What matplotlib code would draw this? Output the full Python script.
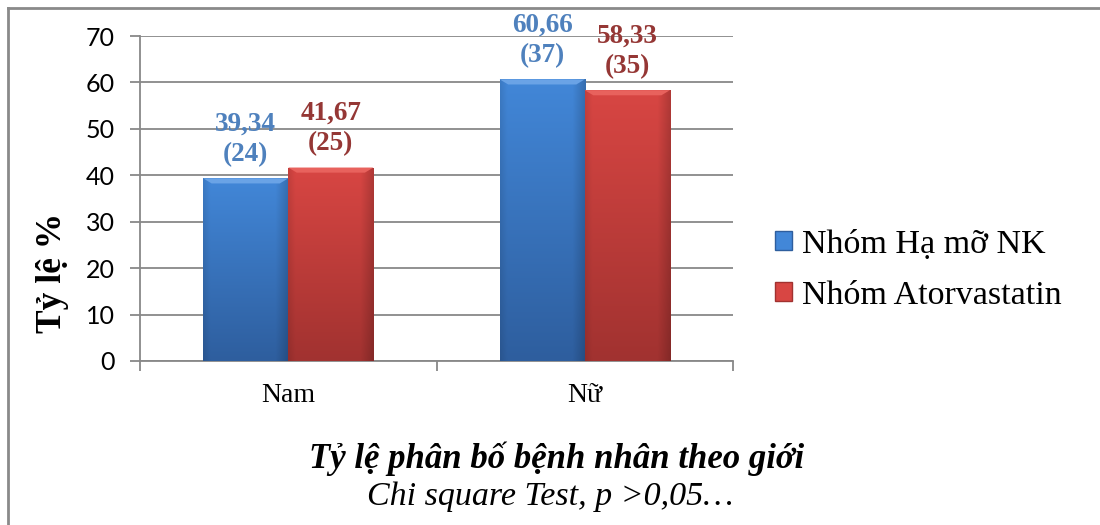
import numpy as np
import matplotlib.pyplot as plt
from matplotlib.lines import Line2D
from matplotlib.colors import to_rgb

# Data
categories = ['Nam', 'Nữ']
series_names = ['Nhóm Hạ mỡ NK', 'Nhóm Atorvastatin']
ha_mo = [39.34, 60.66]
ha_mo_n = [24, 37]
atorva = [41.67, 58.33]
atorva_n = [25, 35]
yticks = [0, 10, 20, 30, 40, 50, 60, 70]

serif = ['Liberation Serif', 'DejaVu Serif']
sans = ['Lato', 'DejaVu Sans']

# (top colour, bottom colour, bevel colour, label colour)
styles = [('#4287d8', '#2e5e9e', '#6aa3e6', '#4f81bd'),
          ('#d84643', '#a13230', '#e8625d', '#953735')]

fig = plt.figure(figsize=(11, 5.25), dpi=100)
ax = fig.add_axes([0.1273, 0.3124, 0.5391, 0.6190])

x = np.arange(len(categories))
w = 0.287
grid_c = '#888888'


def shade(ax, rect, top, bottom, bevel):
    x0, y0 = rect.get_xy()
    rw, rh = rect.get_width(), rect.get_height()
    t = np.linspace(0, 1, 200)[:, None]
    c1, c2 = np.array(to_rgb(top)), np.array(to_rgb(bottom))
    vert = c1 * (1 - t) + c2 * t
    s = np.linspace(0, 1, 60)[None, :]
    edge = 1 - 0.18 * (np.clip((s - 0.85) / 0.15, 0, 1) + np.clip((0.08 - s) / 0.08, 0, 1) * 0.5)
    img = vert[:, None, :] * edge[..., None]
    im = ax.imshow(np.clip(img, 0, 1), extent=[x0, x0 + rw, y0, y0 + rh],
                   aspect='auto', origin='upper', zorder=3, interpolation='bilinear')
    im.set_clip_path(rect)
    # top bevel
    ax.add_patch(plt.Polygon([(x0, y0 + rh), (x0 + rw, y0 + rh),
                              (x0 + rw * 0.9, y0 + rh - 1.1), (x0 + rw * 0.1, y0 + rh - 1.1)],
                             closed=True, color=bevel, zorder=4, lw=0))


handles = []
for i, (vals, counts) in enumerate([(ha_mo, ha_mo_n), (atorva, atorva_n)]):
    top, bottom, bevel, lc = styles[i]
    pos = x - w / 2 + i * w
    bars = ax.bar(pos, vals, width=w, color=top, zorder=2, lw=0)
    for rect in bars:
        shade(ax, rect, top, bottom, bevel)
    for p, v, n in zip(pos, vals, counts):
        ax.annotate(f'{v:.2f}'.replace('.', ',') + f'\n({n})', (p, v),
                    xytext=(0, 8), textcoords='offset points',
                    ha='center', va='bottom', color=lc, fontsize=19.5,
                    fontweight='bold', family=serif, linespacing=1.3, zorder=5)
    handles.append(plt.Rectangle((0, 0), 1, 1, facecolor=top, edgecolor=bottom, lw=1))

ax.set_xlim(-0.5, 1.5)
ax.set_ylim(0, 70)
ax.set_yticks(yticks)
ax.set_xticks(x)
ax.set_xticklabels(categories, family=serif, fontsize=20)
ax.set_xticks([-0.5, 0.5, 1.5], minor=True)
ax.tick_params(axis='x', which='major', length=0, pad=16)
ax.tick_params(axis='x', which='minor', length=7, width=1.3, color=grid_c, direction='out')
ax.tick_params(axis='y', length=7, width=1.3, color=grid_c, pad=11, labelsize=18)
for lab in ax.get_yticklabels():
    lab.set_family(sans)

ax.grid(axis='y', color=grid_c, lw=1.3, zorder=0)
ax.set_axisbelow(True)
for s in ['top', 'right']:
    ax.spines[s].set_visible(False)
for s in ['left', 'bottom']:
    ax.spines[s].set_color(grid_c)
    ax.spines[s].set_linewidth(1.3)

fig.text(0.048, 0.481, 'Tỷ lệ %', rotation=90, ha='center', va='center',
         fontsize=25.5, fontweight='bold', family=serif)

fig.legend(handles, series_names, loc='center left', bbox_to_anchor=(0.7045, 0.486),
           frameon=False, prop={'family': serif, 'size': 24.5},
           handlelength=0.5, handleheight=0.5, handletextpad=0.3,
           labelspacing=0.6, borderpad=0, borderaxespad=0)

fig.text(0.506, 1 - 468 / 525, 'Tỷ lệ phân bố bệnh nhân theo giới', ha='center',
         va='baseline', fontsize=25, fontweight='bold', style='italic', family=serif)
fig.text(0.5, 1 - 505 / 525, 'Chi square Test, p >0,05…', ha='center', va='baseline',
         fontsize=24.5, style='italic', family=serif)

# outer frame
fig.add_artist(Line2D([8 / 1100, 1], [1 - 8 / 525] * 2, transform=fig.transFigure,
                      color='#8a8a8a', lw=2))
fig.add_artist(Line2D([8 / 1100] * 2, [0, 1 - 8 / 525], transform=fig.transFigure,
                      color='#8a8a8a', lw=2))

fig.savefig('out.png', dpi=100, facecolor='white')
